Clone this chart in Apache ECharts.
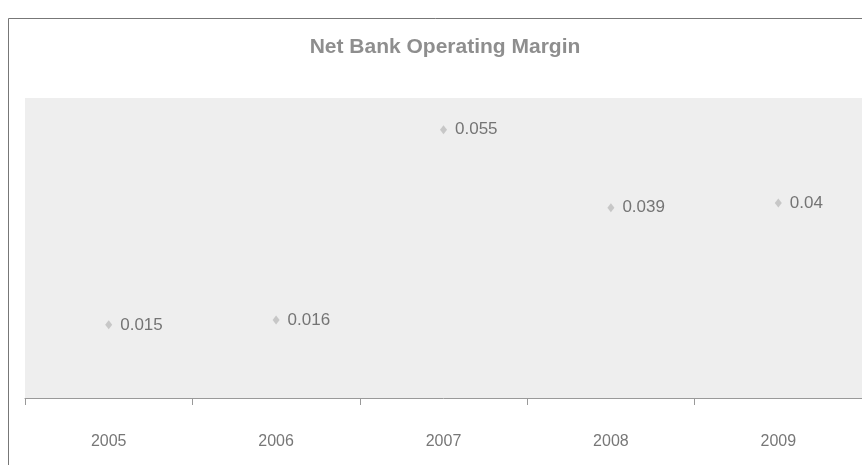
<!DOCTYPE html>
<html>
<head>
<meta charset="utf-8">
<script src="https://cdn.jsdelivr.net/npm/echarts@6/dist/echarts.min.js"></script>
<style>
  html, body { margin: 0; padding: 0; background: #fff; }
  #chart { width: 862px; height: 465px; }
</style>
</head>
<body>
<div id="chart"></div>
<script>
// 数据
const years = ['2005', '2006', '2007', '2008', '2009']
const margins = [0.015, 0.016, 0.055, 0.039, 0.04]

const chart = echarts.init(document.getElementById('chart'))

const option = {
  backgroundColor: '#fff',
  animation: false,
  title: {
    text: 'Net Bank Operating Margin',
    left: 440,
    textAlign: 'center',
    top: 32,
    textStyle: {
      color: '#8e8e8e',
      fontSize: 21,
      fontWeight: 'bold',
      fontFamily: 'Arial, sans-serif'
    }
  },
  graphic: [{
    type: 'rect', // 外框
    silent: true,
    shape: { x: 8.5, y: 18.5, width: 900, height: 470 },
    style: { fill: 'none', stroke: '#777', lineWidth: 1 }
  }],
  grid: {
    left: 25,
    top: 98,
    width: 845,
    height: 300,
    show: true,
    backgroundColor: '#eeeeee',
    borderWidth: 0
  },
  xAxis: {
    type: 'category',
    data: years,
    boundaryGap: true,
    axisLine: { lineStyle: { color: '#999', width: 1 } },
    axisTick: { show: true, length: 7, lineStyle: { color: '#999' } },
    axisLabel: {
      margin: 36,
      color: '#777',
      fontSize: 16,
      fontFamily: 'Arial, sans-serif'
    },
    splitLine: { show: false }
  },
  yAxis: {
    type: 'value',
    min: 0,
    max: 0.0615,
    show: false,
    splitLine: { show: false }
  },
  series: [{
    type: 'scatter',
    data: margins,
    symbol: 'diamond',
    symbolSize: [7, 9],
    itemStyle: { color: '#bdbdbd' },
    label: {
      show: true,
      position: 'right',
      distance: 8,
      color: '#555',
      fontSize: 17,
      fontFamily: 'Arial, sans-serif'
    }
  }]
}

chart.setOption(option)
</script>
</body>
</html>
